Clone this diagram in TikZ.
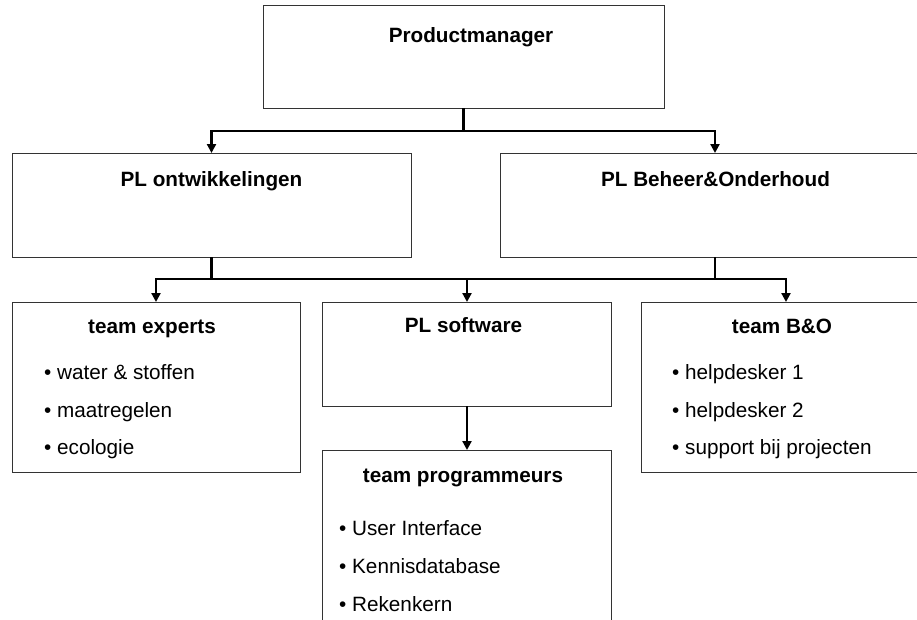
\documentclass[tikz,border=0pt]{standalone}
\usepackage{fontspec}
\setmainfont{Liberation Sans}
\usetikzlibrary{arrows.meta}
\begin{document}
\begin{tikzpicture}[x=1pt,y=-1pt,
    box/.style={draw=black!80,line width=1pt,inner sep=0pt,outer sep=0pt},
    head/.style={font=\fontsize{20.7}{24}\selectfont\bfseries,anchor=base,inner sep=0pt},
    item/.style={font=\fontsize{20.7}{24}\selectfont,anchor=base west,inner sep=0pt},
    link/.style={line width=2.2pt,-{Triangle[width=9pt,length=9pt]}},
    bar/.style={line width=2.2pt}]
  \useasboundingbox (0,0) rectangle (917,619);
  \clip (0,0) rectangle (917,619);
  % boxes
  \node[box,minimum width=401pt,minimum height=103pt] (pm) at (463.5,56.5) {};
  \node[box,minimum width=399pt,minimum height=104pt] (plo) at (211.5,205) {};
  \node[box,minimum width=430pt,minimum height=104pt] (plb) at (715,205) {};
  \node[box,minimum width=288pt,minimum height=170pt] (texp) at (156,387) {};
  \node[box,minimum width=289pt,minimum height=104pt] (plsw) at (467,354) {};
  \node[box,minimum width=289pt,minimum height=220pt] (tprog) at (467,560) {};
  \node[box,minimum width=290pt,minimum height=170pt] (tbo) at (786,387) {};
  % titles
  \node[head] (pmt) at (471,42) {Productmanager};
  \node[head] (plot) at (211.5,186) {PL ontwikkelingen};
  \node[head] (plbt) at (715.5,186) {PL Beheer\&Onderhoud};
  \node[head] (texpt) at (152,333) {team experts};
  \node[head] (plswt) at (463.5,332) {PL software};
  \node[head] (tprogt) at (463,482) {team programmeurs};
  \node[head] (tbot) at (782,333) {team B\&O};
  % lists
  \node[item] (exp1) at (44,379) {• water \& stoffen};
  \node[item] (exp2) at (44,417) {• maatregelen};
  \node[item] (exp3) at (44,454) {• ecologie};
  \node[item] (prog1) at (339,535) {• User Interface};
  \node[item] (prog2) at (339,573) {• Kennisdatabase};
  \node[item] (prog3) at (339,611) {• Rekenkern};
  \node[item] (bo1) at (672,379) {• helpdesker 1};
  \node[item] (bo2) at (672,417) {• helpdesker 2};
  \node[item] (bo3) at (672,454) {• support bij projecten};
  % connectors
  \coordinate (j1) at (463.5,131);
  \coordinate (bus) at (211.5,279);
  \coordinate (bus2) at (715,279);
  \draw[link] (pm.south) -- (j1) -| (plo.north);
  \draw[link] (j1) -| (plb.north);
  \draw[bar] (bus) -- (bus2);
  \draw[link] (plo.south) -- (bus) -| (texp.north);
  \draw[link] (bus) -| (plsw.north);
  \draw[link] (plb.south) -- (bus2) -| (tbo.north);
  \draw[link] (plsw.south) -- (tprog.north);
\end{tikzpicture}
\end{document}
